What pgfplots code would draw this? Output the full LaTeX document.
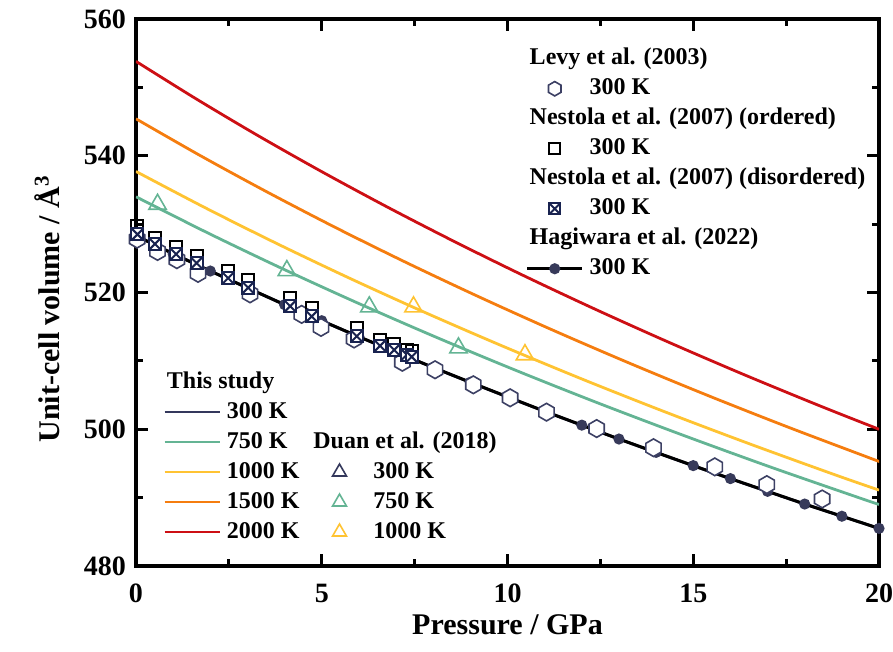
\documentclass[border=0pt]{standalone}
\usepackage{fontspec}
\setmainfont{Liberation Serif}
\usepackage{pgfplots}
\pgfplotsset{compat=1.18}
\usetikzlibrary{plotmarks}

\definecolor{c300}{RGB}{52,56,92}
\definecolor{c750}{RGB}{100,180,148}
\definecolor{c1000}{RGB}{255,195,50}
\definecolor{c1500}{RGB}{245,125,15}
\definecolor{c2000}{RGB}{205,15,20}
\definecolor{chex}{RGB}{60,64,100}
\definecolor{cboxx}{RGB}{25,35,80}
\definecolor{cdot}{RGB}{55,58,90}

\pgfdeclareplotmark{hexagon}{%
  \pgfpathmoveto{\pgfpointpolar{90}{\pgfplotmarksize}}%
  \pgfpathlineto{\pgfpointpolar{150}{\pgfplotmarksize}}%
  \pgfpathlineto{\pgfpointpolar{210}{\pgfplotmarksize}}%
  \pgfpathlineto{\pgfpointpolar{270}{\pgfplotmarksize}}%
  \pgfpathlineto{\pgfpointpolar{330}{\pgfplotmarksize}}%
  \pgfpathlineto{\pgfpointpolar{30}{\pgfplotmarksize}}%
  \pgfpathclose
  \pgfusepathqfillstroke}
\pgfdeclareplotmark{boxx}{%
  \pgfpathrectanglecorners{\pgfpoint{-\pgfplotmarksize}{-\pgfplotmarksize}}{\pgfpoint{\pgfplotmarksize}{\pgfplotmarksize}}%
  \pgfusepathqfillstroke
  \pgfpathmoveto{\pgfpoint{-\pgfplotmarksize}{-\pgfplotmarksize}}%
  \pgfpathlineto{\pgfpoint{\pgfplotmarksize}{\pgfplotmarksize}}%
  \pgfpathmoveto{\pgfpoint{-\pgfplotmarksize}{\pgfplotmarksize}}%
  \pgfpathlineto{\pgfpoint{\pgfplotmarksize}{-\pgfplotmarksize}}%
  \pgfusepathqstroke}

\pgfplotsset{
  mylegend/.style={
    legend cell align=left,
    legend style={draw=none, fill=none, inner sep=0pt, row sep=3pt, column sep=0pt,
      font=\fontsize{12}{14}\selectfont\bfseries,
      nodes={inner xsep=3pt, inner ysep=0pt, text height=9pt, text depth=3pt}},
    legend image code/.code={%
      \path (0pt,0pt) (27.5pt,0pt);
      \draw[mark repeat=2,mark phase=2,##1] plot coordinates {(0pt,0pt) (13.75pt,0pt) (27.5pt,0pt)};},
  },
  frame/.style={
    at={(0pt,0pt)}, anchor=south west,
    scale only axis, width=371.5pt, height=273.5pt,
    xmin=0, xmax=20, ymin=480, ymax=560,
  },
  hexst/.style={only marks, mark=hexagon, mark size=4.4pt, mark options={draw=chex, fill=white, line width=0.8pt}},
  sqst/.style={only marks, mark=square, mark size=3pt, mark options={draw=black, fill=white, line width=1pt}},
  bxst/.style={only marks, mark=boxx, mark size=3pt, mark options={draw=cboxx, fill=white, line width=1pt}},
  trist/.style={only marks, mark=triangle, mark size=5pt, mark options={draw=#1, fill=white, line width=0.8pt}},
  hagst/.style={black, line width=1.5pt, mark=*, mark size=2pt, mark options={draw=cdot, fill=cdot}},
}

\begin{document}
\begin{tikzpicture}
\path[use as bounding box] (-68pt,-43pt) rectangle (378.5pt,283pt);

\begin{axis}[
  frame, mylegend,
  legend columns=2,
  legend style={at={(0.036,0.359)}, anchor=north west, /tikz/column 2/.style={column sep=3pt}},
  clip mode=individual,
  xtick={0,5,10,15,20}, ytick={480,500,520,540,560},
  minor xtick={2.5,7.5,12.5,17.5}, minor ytick={490,510,530,550},
  tick align=inside, xtick pos=both, ytick pos=both,
  major tick length=6pt, minor tick length=3.5pt,
  tick style={black, line width=1.4pt},
  axis line style={line width=1.8pt},
  /pgf/number format/assume math mode=true,
  ticklabel style={font=\fontsize{14}{16}\selectfont\bfseries},
  xticklabel style={yshift=-5.5pt},
  yticklabel style={xshift=-1.5pt},
  xlabel={Pressure / GPa},
  ylabel={Unit-cell volume / Å\textsuperscript{3}},
  label style={font=\fontsize{15}{18}\selectfont\bfseries},
  xlabel style={at={(axis description cs:0.5,-0.108)}, anchor=center},
  ylabel style={at={(axis description cs:-0.12,0.47)}, anchor=center},
]
% This study
\addplot[c300, line width=1.4pt, smooth, forget plot] coordinates {(0,528.3)(2.029,523.07)(4.117,517.94)(6.267,512.91)(8.478,507.98)(10.750,503.14)(13.084,498.40)(15.481,493.74)(17.941,489.17)(20,485.5)};
\addplot[c750, line width=1.4pt, smooth, forget plot] coordinates {(0,534.0)(1.933,528.71)(3.923,523.53)(5.972,518.45)(8.079,513.46)(10.244,508.57)(12.469,503.77)(14.753,499.07)(17.097,494.44)(19.501,489.91)(20,489.0)};
\addplot[c1000, line width=1.4pt, smooth, forget plot] coordinates {(0,537.7)(1.867,532.38)(3.790,527.16)(5.768,522.04)(7.803,517.02)(9.894,512.10)(12.043,507.26)(14.249,502.52)(16.513,497.87)(18.835,493.30)(20,491.1)};
\addplot[c1500, line width=1.4pt, smooth, forget plot] coordinates {(0,545.4)(1.737,540.00)(3.526,534.71)(5.367,529.51)(7.260,524.42)(9.206,519.43)(11.205,514.53)(13.258,509.72)(15.364,505.00)(17.524,500.37)(19.740,495.82)(20,495.3)};
\addplot[c2000, line width=1.4pt, smooth, forget plot] coordinates {(0,553.8)(1.619,548.32)(3.285,542.94)(5.001,537.67)(6.765,532.50)(8.578,527.43)(10.441,522.45)(12.354,517.57)(14.316,512.78)(16.330,508.07)(18.394,503.45)(20,500.0)};
% Hagiwara et al. (2022)
\addplot[hagst, forget plot] coordinates {(0,528.3)(1,525.66)(2,523.14)(3,520.68)(4,518.22)(5,515.87)(6,513.53)(7,511.27)(8,509.04)(9,506.87)(10,504.74)(11,502.63)(12,500.60)(13,498.57)(14,496.62)(15,494.68)(16,492.78)(17,490.92)(18,489.06)(19,487.28)(20,485.5)};
% Duan et al. (2018)
\addplot[trist=c750, forget plot] coordinates {(0.58,532.9)(4.06,523.2)(6.28,517.9)(8.68,511.9)};
\addplot[trist=c1000, forget plot] coordinates {(7.47,517.9)(10.47,510.9)};
% Levy et al. (2003)
\addplot[hexst, forget plot] coordinates {(0.03,527.8)(0.58,526.0)(1.10,524.8)(1.67,522.8)(3.07,519.8)(4.46,516.8)(4.98,514.9)(5.87,513.2)(7.17,509.8)(8.05,508.7)(9.08,506.5)(10.07,504.6)(11.05,502.5)(12.40,500.1)(13.93,497.3)(15.58,494.5)(16.98,491.9)(18.47,489.8)};
% Nestola et al. (2007) ordered
\addplot[sqst, forget plot] coordinates {(0.04,529.7)(0.51,528.0)(1.08,526.6)(1.63,525.3)(2.48,523.1)(3.02,521.9)(4.15,519.2)(4.73,517.7)(5.94,514.8)(6.57,513.1)(6.95,512.4)(7.29,511.6)(7.42,511.4)};
% Nestola et al. (2007) disordered
\addplot[bxst, forget plot] coordinates {(0.04,528.5)(0.51,527.1)(1.08,525.6)(1.63,524.3)(2.48,522.1)(3.02,520.7)(4.15,518.0)(4.73,516.5)(5.94,513.6)(6.57,512.2)(6.95,511.6)(7.29,510.9)(7.42,510.6)};

% bottom-left legend
\addlegendimage{empty legend}\addlegendentry{\hspace*{-30pt}This study}
\addlegendimage{empty legend}\addlegendentry{}
\addlegendimage{c300, line width=1.4pt}\addlegendentry{300 K}
\addlegendimage{empty legend}\addlegendentry{}
\addlegendimage{c750, line width=1.4pt}\addlegendentry{750 K}
\addlegendimage{empty legend}\addlegendentry{\hspace*{-30pt}Duan et al. (2018)}
\addlegendimage{c1000, line width=1.4pt}\addlegendentry{1000 K}
\addlegendimage{trist=c300, mark size=4pt}\addlegendentry{300 K}
\addlegendimage{c1500, line width=1.4pt}\addlegendentry{1500 K}
\addlegendimage{trist=c750, mark size=4pt}\addlegendentry{750 K}
\addlegendimage{c2000, line width=1.4pt}\addlegendentry{2000 K}
\addlegendimage{trist=c1000, mark size=4pt}\addlegendentry{1000 K}
\end{axis}

\begin{axis}[
  frame, mylegend, hide axis,
  legend style={at={(0.524,0.95)}, anchor=north west},
]
\addlegendimage{empty legend}\addlegendentry{\hspace*{-30pt}Levy et al. (2003)}
\addlegendimage{hexst, mark size=3.6pt}\addlegendentry{300 K}
\addlegendimage{empty legend}\addlegendentry{\hspace*{-30pt}Nestola et al. (2007) (ordered)}
\addlegendimage{sqst, mark size=2.7pt}\addlegendentry{300 K}
\addlegendimage{empty legend}\addlegendentry{\hspace*{-30pt}Nestola et al. (2007) (disordered)}
\addlegendimage{bxst, mark size=2.7pt}\addlegendentry{300 K}
\addlegendimage{empty legend}\addlegendentry{\hspace*{-30pt}Hagiwara et al. (2022)}
\addlegendimage{hagst}\addlegendentry{300 K}
\end{axis}
\end{tikzpicture}
\end{document}
